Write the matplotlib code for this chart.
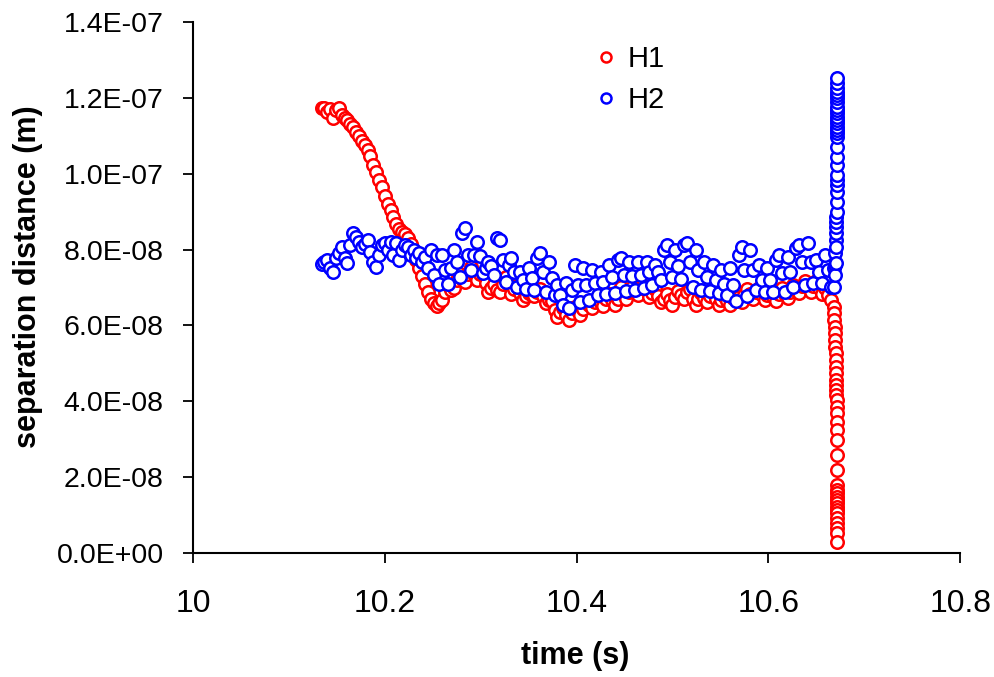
import numpy as np
import matplotlib
matplotlib.use("Agg")
import matplotlib.pyplot as plt
from matplotlib.ticker import MultipleLocator, FuncFormatter

plt.rcParams['font.family'] = ['Liberation Sans', 'DejaVu Sans']

# values (separation in nm, time in s)
time_s = [
    10.134, 10.137, 10.140, 10.143, 10.146, 10.149, 10.152, 10.155, 10.158, 10.161,
    10.164, 10.167, 10.170, 10.173, 10.176, 10.179, 10.182, 10.185, 10.188, 10.191,
    10.194, 10.197, 10.200, 10.203, 10.206, 10.209, 10.212, 10.215, 10.218, 10.221,
    10.224, 10.227, 10.230, 10.233, 10.236, 10.239, 10.242, 10.245, 10.248, 10.251,
    10.254, 10.257, 10.260, 10.263, 10.266, 10.269, 10.272, 10.275, 10.278, 10.281,
    10.284, 10.287, 10.290, 10.293, 10.296, 10.299, 10.302, 10.305, 10.308, 10.311,
    10.314, 10.317, 10.320, 10.323, 10.326, 10.329, 10.332, 10.335, 10.338, 10.341,
    10.344, 10.347, 10.350, 10.353, 10.356, 10.359, 10.362, 10.365, 10.368, 10.371,
    10.374, 10.377, 10.380, 10.383, 10.386, 10.389, 10.392, 10.395, 10.398, 10.401,
    10.404, 10.407, 10.410, 10.413, 10.416, 10.419, 10.422, 10.425, 10.428, 10.431,
    10.434, 10.437, 10.440, 10.443, 10.446, 10.449, 10.452, 10.455, 10.458, 10.461,
    10.464, 10.467, 10.470, 10.473, 10.476, 10.479, 10.482, 10.485, 10.488, 10.491,
    10.494, 10.497, 10.500, 10.503, 10.506, 10.509, 10.512, 10.515, 10.518, 10.521,
    10.524, 10.527, 10.530, 10.533, 10.536, 10.539, 10.542, 10.545, 10.548, 10.551,
    10.554, 10.557, 10.560, 10.563, 10.566, 10.569, 10.572, 10.575, 10.578, 10.581,
    10.584, 10.587, 10.590, 10.593, 10.596, 10.599, 10.602, 10.605, 10.608, 10.611,
    10.614, 10.617, 10.620, 10.623, 10.626, 10.629, 10.632, 10.635, 10.638, 10.641,
    10.644, 10.647, 10.650, 10.653, 10.656, 10.659, 10.662, 10.665, 10.668,
]

h1_nm = [
    117.3, 117.3, 116.3, 117.1, 114.7, 116.8, 117.3, 115.5, 114.7, 114.2,
    113.1, 112.3, 111.0, 109.9, 108.6, 107.6, 106.3, 104.7, 102.3, 100.5,
    98.3, 96.5, 94.1, 92.0, 90.4, 88.6, 86.7, 85.4, 84.6, 84.1,
    83.0, 81.5, 79.4, 77.2, 75.1, 73.0, 70.9, 68.8, 67.0, 65.9,
    65.1, 65.9, 66.7, 68.8, 70.7, 69.3, 69.9, 72.0, 73.6, 72.3,
    71.4, 73.6, 75.4, 73.6, 72.0, 73.6, 73.6, 71.2, 68.8, 69.9,
    70.9, 69.3, 68.8, 70.9, 72.8, 70.7, 68.3, 69.6, 70.4, 68.6,
    66.7, 67.8, 68.6, 68.0, 67.8, 68.8, 69.6, 67.8, 65.9, 66.7,
    66.4, 64.1, 62.2, 63.5, 64.6, 62.7, 61.4, 63.3, 64.9, 63.8,
    62.7, 64.3, 66.2, 65.4, 64.6, 66.2, 67.5, 65.9, 65.1, 67.0,
    68.3, 66.7, 65.4, 67.0, 70.1, 68.6, 67.0, 68.8, 70.1, 68.8,
    68.0, 69.9, 71.4, 70.1, 67.5, 68.6, 69.6, 67.8, 66.2, 67.0,
    68.3, 66.7, 65.4, 67.5, 69.1, 68.0, 67.0, 68.8, 69.6, 67.0,
    65.4, 67.0, 68.6, 67.2, 66.2, 67.8, 68.8, 67.0, 65.4, 66.7,
    67.8, 66.4, 65.4, 67.2, 68.8, 67.5, 66.2, 68.0, 69.6, 68.3,
    67.0, 68.8, 69.9, 68.0, 66.7, 68.0, 69.1, 67.5, 66.4, 68.3,
    69.9, 68.3, 67.2, 68.8, 70.7, 69.3, 68.6, 70.4, 71.7, 70.1,
    68.8, 70.4, 71.7, 69.9, 68.3, 69.9, 68.0, 66.7, 64.9,
]

h2_nm = [
    76.2, 76.7, 77.2, 75.1, 74.1, 77.8, 79.1, 80.7, 77.8, 76.5,
    81.2, 84.4, 83.3, 82.0, 80.7, 81.5, 82.5, 79.4, 76.7, 75.4,
    78.6, 81.2, 81.7, 79.9, 82.0, 78.6, 81.7, 77.2, 79.9, 81.2,
    80.7, 78.6, 79.9, 77.8, 79.1, 76.7, 78.0, 75.1, 79.9, 73.3,
    78.6, 70.9, 78.6, 74.6, 70.9, 75.1, 79.9, 76.7, 72.8, 84.4,
    85.7, 78.6, 74.6, 78.6, 82.0, 78.3, 73.8, 75.1, 76.7, 75.6,
    73.3, 83.0, 82.5, 77.2, 71.4, 75.9, 77.8, 74.1, 70.2, 74.1,
    72.0, 69.6, 75.1, 72.5, 69.3, 77.8, 79.1, 74.1, 68.8, 76.7,
    72.5, 68.0, 70.7, 68.0, 65.4, 71.2, 64.6, 69.3, 75.9, 70.7,
    66.2, 75.1, 70.7, 66.7, 74.6, 71.2, 68.0, 74.1, 71.4, 68.3,
    75.9, 72.8, 68.6, 77.2, 77.8, 73.3, 69.1, 76.7, 73.0, 69.3,
    76.7, 73.3, 69.9, 76.7, 74.1, 70.7, 75.9, 74.1, 72.0, 79.9,
    81.2, 76.7, 72.8, 79.9, 75.6, 72.3, 81.2, 81.7, 76.7, 70.2,
    79.9, 74.6, 69.3, 76.7, 72.8, 69.1, 75.9, 72.0, 68.6, 74.6,
    70.9, 68.0, 75.1, 70.7, 66.4, 78.6, 80.7, 74.6, 67.8, 79.9,
    74.6, 69.3, 75.9, 72.0, 68.8, 75.1, 72.0, 68.8, 77.2, 78.6,
    73.8, 68.8, 78.0, 74.1, 70.2, 80.4, 81.2, 76.7, 70.7, 81.7,
    76.7, 71.2, 77.2, 74.1, 71.2, 78.6, 74.6, 70.2, 75.1,
]

# the last few ms, where the time step gets very small
h1_spike_t = [
    10.6684, 10.6688, 10.6691, 10.6694, 10.6697, 10.6699, 10.6701, 10.6703, 10.6705,
    10.6706, 10.6707, 10.6708, 10.6709, 10.6710, 10.6711, 10.6712, 10.6713, 10.6714,
    10.6714, 10.6715, 10.6715, 10.6716, 10.6716, 10.6716, 10.6717, 10.6717, 10.6717,
    10.6717, 10.6718, 10.6718, 10.6718, 10.6718, 10.6718, 10.6719, 10.6719, 10.6719,
]
h1_spike_nm = [
    63.3, 61.4, 59.6, 58.0, 56.2, 54.3, 52.7, 50.9, 49.0,
    47.5, 45.6, 44.3, 43.0, 41.7, 40.3, 38.5, 36.9, 34.5,
    32.4, 29.8, 25.8, 21.9, 17.9, 16.6, 15.8, 14.8, 14.0,
    13.2, 12.1, 11.3, 10.5, 9.2, 7.9, 6.6, 5.3, 2.9,
]

h2_spike_t = [
    10.6688, 10.6692, 10.6695, 10.6698, 10.6700, 10.6702, 10.6704, 10.6706, 10.6708,
    10.6709, 10.6710, 10.6711, 10.6712, 10.6713, 10.6714, 10.6714, 10.6715, 10.6715,
    10.6716, 10.6716, 10.6716, 10.6717, 10.6717, 10.6717, 10.6717, 10.6717, 10.6718,
    10.6718, 10.6718, 10.6718, 10.6718, 10.6718, 10.6718, 10.6719, 10.6719, 10.6719,
    10.6719,
]
h2_spike_nm = [
    70.1, 75.9, 73.3, 79.1, 76.5, 82.5, 80.7, 84.4, 86.0,
    87.3, 88.6, 89.9, 92.5, 95.2, 97.0, 98.3, 99.7, 102.3,
    104.4, 107.0, 109.7, 110.7, 111.5, 112.3, 113.4, 114.2, 114.9,
    116.0, 116.8, 117.6, 118.9, 120.0, 120.8, 121.5, 122.6, 123.9,
    125.2,
]

t1 = np.array(time_s + h1_spike_t)
d1 = np.array(h1_nm + h1_spike_nm) * 1e-9
t2 = np.array(time_s + h2_spike_t)
d2 = np.array(h2_nm + h2_spike_nm) * 1e-9

fig = plt.figure(figsize=(9.95, 6.77), dpi=100)
ax = fig.add_axes([0.194, 0.183, 0.771, 0.7845])

marker_kw = dict(ls='none', marker='o', ms=9, mfc='white', mew=1.8)
ax.plot(t1, d1, mec='#ff0000', label='H1', **marker_kw)
ax.plot(t2, d2, mec='#0000ff', label='H2', **marker_kw)

ax.set_xlim(10, 10.8)
ax.set_ylim(0, 1.4e-7)
ax.xaxis.set_major_locator(MultipleLocator(0.2))
ax.yaxis.set_major_locator(MultipleLocator(2e-8))
ax.xaxis.set_major_formatter(FuncFormatter(lambda v, p: f"{v:g}"))
ax.yaxis.set_major_formatter(FuncFormatter(lambda v, p: f"{v:.1E}"))

for side in ['top', 'right']:
    ax.spines[side].set_visible(False)
for side in ['left', 'bottom']:
    ax.spines[side].set_linewidth(1.5)

ax.tick_params(axis='both', direction='out', length=7, width=1.3, colors='black')
ax.tick_params(axis='x', labelsize=23, pad=19)
ax.tick_params(axis='y', labelsize=20.5, pad=14)

ax.set_xlabel('time (s)', fontsize=22, fontweight='bold')
ax.set_ylabel('separation distance (m)', fontsize=22, fontweight='bold')
ax.xaxis.label.set_va('center')
ax.yaxis.label.set_va('center')
ax.xaxis.set_label_coords(0.498, -0.193)
ax.yaxis.set_label_coords(-0.215, 0.52)

ax.legend(loc='center left', bbox_to_anchor=(0.504, 0.891), frameon=False,
          fontsize=21, handlelength=1, handletextpad=0.25, labelspacing=0.45,
          borderpad=0.4, borderaxespad=0, markerscale=0.8)

fig.savefig('out.png', dpi=100)
